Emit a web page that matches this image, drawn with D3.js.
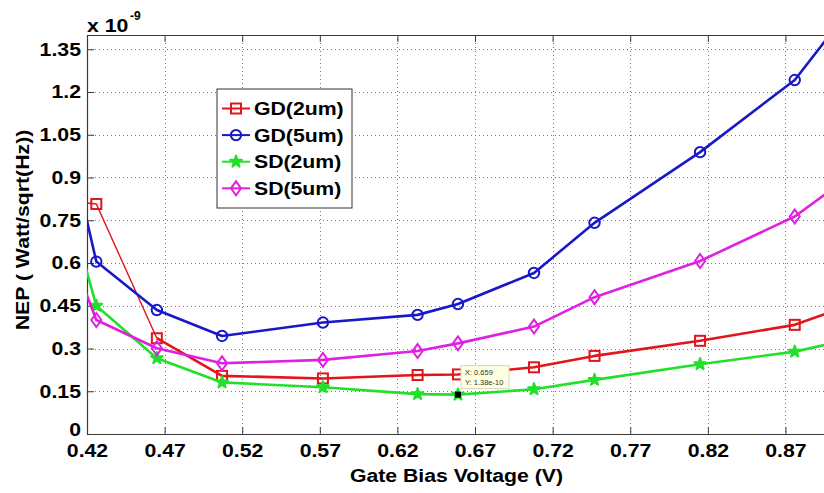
<!DOCTYPE html>
<html>
<head>
<meta charset="utf-8">
<script src="https://cdn.jsdelivr.net/npm/d3@7"></script>
<style>
  html, body { margin: 0; padding: 0; background: #fff; }
  svg { display: block; }
  text { font-family: "Liberation Sans", Arial, sans-serif; }
</style>
</head>
<body>
<svg id="chart" width="824" height="493"></svg>
<script>
// Gate bias voltage (V) and NEP values (units of 1e-9 W/sqrt(Hz)).
// The outermost samples lie just beyond the axis limits and are clipped.
const voltage = [0.41, 0.426, 0.465, 0.507, 0.572, 0.633, 0.659, 0.708, 0.747, 0.815, 0.876, 0.92];
const gd2um = [0.817, 0.807, 0.336, 0.204, 0.195, 0.207, 0.209, 0.234, 0.274, 0.327, 0.383, 0.469];
const gd5um = [0.984, 0.605, 0.435, 0.344, 0.391, 0.418, 0.456, 0.565, 0.741, 0.989, 1.242, 1.551];
const sd2um = [0.762, 0.450, 0.266, 0.181, 0.164, 0.140, 0.138, 0.157, 0.190, 0.245, 0.289, 0.343];
const sd5um = [0.629, 0.400, 0.301, 0.248, 0.260, 0.291, 0.318, 0.377, 0.480, 0.607, 0.763, 0.939];

const seriesNames = ["GD(2um)", "GD(5um)", "SD(2um)", "SD(5um)"];
const xTicks = [0.42, 0.47, 0.52, 0.57, 0.62, 0.67, 0.72, 0.77, 0.82, 0.87];
const xTickLabels = ["0.42", "0.47", "0.52", "0.57", "0.62", "0.67", "0.72", "0.77", "0.82", "0.87"];
const yTicks = [0, 0.15, 0.3, 0.45, 0.6, 0.75, 0.9, 1.05, 1.2, 1.35];
const yTickLabels = ["0", "0.15", "0.3", "0.45", "0.6", "0.75", "0.9", "1.05", "1.2", "1.35"];

// data cursor readout
const tipX = 0.659;
const tipY = 0.138;

const series = [
  { name: seriesNames[0], values: gd2um, color: "#e3141b", marker: "square", thinSegments: 2 },
  { name: seriesNames[1], values: gd5um, color: "#1818c8", marker: "circle", thinSegments: 0 },
  { name: seriesNames[2], values: sd2um, color: "#22e02a", marker: "star", thinSegments: 0 },
  { name: seriesNames[3], values: sd5um, color: "#e020e0", marker: "diamond", thinSegments: 0 }
];

const svg = d3.select("#chart");
const plotLeft = 87, plotRight = 832, plotTop = 35, plotBottom = 434;
const x = d3.scaleLinear().domain([0.42, 0.9]).range([plotLeft, plotRight]);
const y = d3.scaleLinear().domain([0, 1.4]).range([plotBottom, plotTop]);

svg.append("defs").append("clipPath").attr("id", "plotClip")
  .append("rect").attr("x", plotLeft).attr("y", plotTop)
  .attr("width", plotRight - plotLeft).attr("height", plotBottom - plotTop);

// grid
const grid = svg.append("g").attr("stroke", "#7a7a7a").attr("stroke-width", 1)
  .attr("stroke-dasharray", "1,3");
grid.selectAll("line.gx").data(xTicks).join("line")
  .attr("x1", d => Math.round(x(d)) + 0.5).attr("x2", d => Math.round(x(d)) + 0.5)
  .attr("y1", plotTop).attr("y2", plotBottom);
grid.selectAll("line.gy").data(yTicks.slice(1)).join("line")
  .attr("x1", plotLeft).attr("x2", plotRight)
  .attr("y1", d => Math.round(y(d)) + 0.5).attr("y2", d => Math.round(y(d)) + 0.5);

// axes
const axisColor = "#3a3a3a";
const xAxis = svg.append("g").attr("transform", `translate(0,${plotBottom})`)
  .call(d3.axisBottom(x).tickValues(xTicks).tickFormat((d, i) => xTickLabels[i])
    .tickSizeInner(-7).tickSizeOuter(0).tickPadding(10));
const xAxisTop = svg.append("g").attr("transform", `translate(0,${plotTop})`)
  .call(d3.axisTop(x).tickValues(xTicks).tickFormat("")
    .tickSizeInner(-7).tickSizeOuter(0));
const yAxis = svg.append("g").attr("transform", `translate(${plotLeft},0)`)
  .call(d3.axisLeft(y).tickValues(yTicks).tickFormat((d, i) => yTickLabels[i])
    .tickSizeInner(-7).tickSizeOuter(0).tickPadding(6));
[xAxis, xAxisTop, yAxis].forEach(g => {
  g.select(".domain").attr("stroke", axisColor).attr("stroke-width", 1.2);
  g.selectAll(".tick line").attr("stroke", axisColor);
  g.selectAll(".tick text").attr("fill", "#000").attr("font-size", 18)
    .attr("font-weight", "bold").attr("font-family", "Liberation Sans, Arial, sans-serif")
    .classed("stretch", true);
});
// the zero label sits tight in the corner, nudge it clear of the x labels
yAxis.selectAll(".tick text").filter(d => d === 0).attr("dy", "0.1em");

// marker drawing
function drawMarker(g, type, color) {
  if (type === "square") {
    g.append("rect").attr("x", -5).attr("y", -5).attr("width", 10).attr("height", 10)
      .attr("fill", "none").attr("stroke", color).attr("stroke-width", 2);
  } else if (type === "circle") {
    g.append("circle").attr("r", 5.2).attr("fill", "none")
      .attr("stroke", color).attr("stroke-width", 2);
  } else if (type === "diamond") {
    g.append("path").attr("d", "M0,-7L5,0L0,7L-5,0Z").attr("fill", "none")
      .attr("stroke", color).attr("stroke-width", 2);
  } else if (type === "star") {
    g.append("path").attr("d", d3.symbol(d3.symbolStar, 42)())
      .attr("fill", color).attr("stroke", color).attr("stroke-width", 2)
      .attr("stroke-linejoin", "round");
  }
}

// series
const plot = svg.append("g").attr("clip-path", "url(#plotClip)");
const line = d3.line().x(d => x(d[0])).y(d => y(d[1]));
series.forEach(s => {
  const pts = voltage.map((v, i) => [v, s.values[i]]);
  if (s.thinSegments > 0) {
    plot.append("path").attr("d", line(pts.slice(0, s.thinSegments + 1)))
      .attr("fill", "none").attr("stroke", s.color).attr("stroke-width", 1.4);
    plot.append("path").attr("d", line(pts.slice(s.thinSegments)))
      .attr("fill", "none").attr("stroke", s.color).attr("stroke-width", 2.6)
      .attr("stroke-linejoin", "round");
  } else {
    plot.append("path").attr("d", line(pts))
      .attr("fill", "none").attr("stroke", s.color).attr("stroke-width", 2.6)
      .attr("stroke-linejoin", "round");
  }
  pts.forEach(p => {
    const g = plot.append("g").attr("transform", `translate(${x(p[0])},${y(p[1])})`);
    drawMarker(g, s.marker, s.color);
  });
});

// data cursor
const tip = svg.append("g");
tip.append("rect").attr("x", x(tipX) - 3).attr("y", y(tipY) - 3)
  .attr("width", 6).attr("height", 6).attr("fill", "#000");
const tipBox = tip.append("g").attr("transform", `translate(${x(tipX) + 3},${y(tipY) - 29})`);
tipBox.append("rect").attr("width", 48).attr("height", 23)
  .attr("fill", "#ffffe1").attr("stroke", "#d6d6c0").attr("stroke-width", 1);
tipBox.append("text").attr("x", 4).attr("y", 9.5).attr("font-size", 7.5).attr("fill", "#333")
  .text(`X: ${tipX}`);
tipBox.append("text").attr("x", 4).attr("y", 19).attr("font-size", 7.5).attr("fill", "#333")
  .text(`Y: ${(tipY * 10).toFixed(2)}e-10`);

// legend
const lg = svg.append("g").attr("transform", "translate(217,89)");
lg.append("rect").attr("width", 135).attr("height", 119)
  .attr("fill", "#fff").attr("stroke", "#333").attr("stroke-width", 1);
series.forEach((s, i) => {
  const row = lg.append("g").attr("transform", `translate(0,${19.5 + i * 26.6})`);
  row.append("line").attr("x1", 5).attr("x2", 33).attr("stroke", s.color).attr("stroke-width", 2);
  const m = row.append("g").attr("transform", "translate(19,0)");
  drawMarker(m, s.marker, s.color);
  row.append("text").attr("x", 37).attr("y", 6.5).attr("font-size", 18)
    .attr("font-weight", "bold").attr("fill", "#000").classed("stretch", true).text(s.name);
});

// axis labels and exponent
svg.append("text").attr("x", (plotLeft + plotRight) / 2 - 3).attr("y", 482)
  .attr("text-anchor", "middle").attr("font-size", 18).attr("font-weight", "bold")
  .classed("stretch", true).text("Gate Bias Voltage (V)");
svg.append("text").attr("transform", "translate(29,230) rotate(-90)")
  .attr("text-anchor", "middle").attr("font-size", 18).attr("font-weight", "bold")
  .classed("stretch", true).text("NEP  ( Watt/sqrt(Hz))");
svg.append("text").attr("x", 87).attr("y", 32).attr("font-size", 18).attr("font-weight", "bold")
  .classed("stretch", true).text("x 10");
svg.append("text").attr("x", 130).attr("y", 20).attr("font-size", 12).attr("font-weight", "bold")
  .text("-9");

// widen the bold lettering
svg.selectAll("text.stretch").each(function () {
  const w = this.getComputedTextLength();
  this.setAttribute("textLength", (w * 1.18).toFixed(1));
  this.setAttribute("lengthAdjust", "spacingAndGlyphs");
});
</script>
</body>
</html>
